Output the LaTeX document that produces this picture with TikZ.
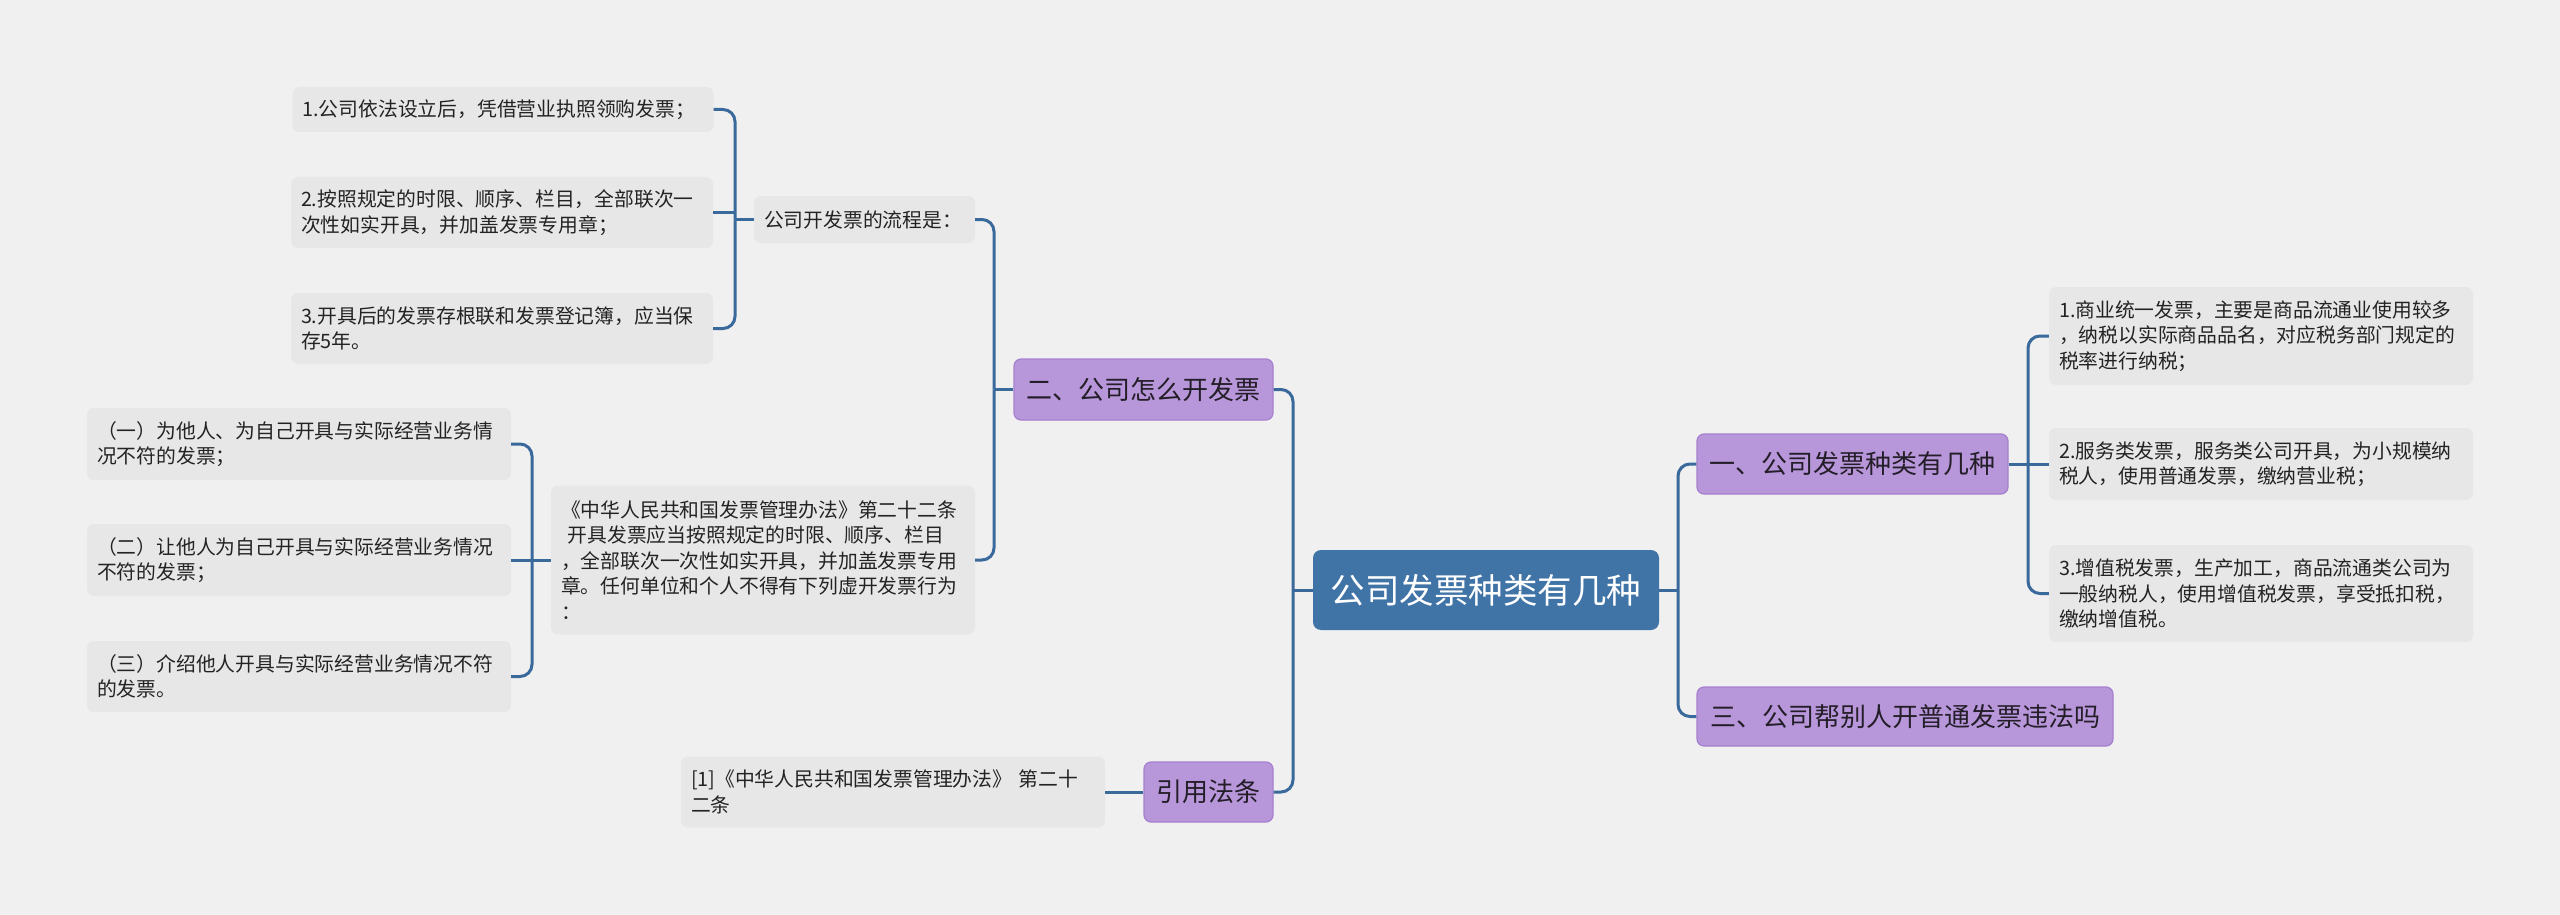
\documentclass[tikz,border=0pt]{standalone}
\usepackage{fontspec}
\setmainfont{Noto Sans CJK SC}
\definecolor{bgc}{RGB}{240,240,240}
\definecolor{leafc}{RGB}{231,231,231}
\definecolor{linec}{RGB}{58,106,155}
\definecolor{rootc}{RGB}{64,115,166}
\definecolor{purp}{RGB}{184,150,218}
\definecolor{purpd}{RGB}{166,128,206}
\definecolor{txtc}{RGB}{35,35,35}
\definecolor{darkt}{RGB}{35,30,40}
\newcommand\myleaffont{\fontsize{19.8}{25.5}\selectfont}
\newcommand\mytopicfont{\fontsize{26}{30}\selectfont}
\newcommand\myrootfont{\fontsize{34.5}{40}\selectfont}
\begin{document}
\begin{tikzpicture}[x=1pt,y=-1pt,
  conn/.style={draw=linec, line width=3pt, rounded corners=12pt},
  leaf/.style={fill=leafc, rounded corners=7pt, inner xsep=10pt, inner ysep=0pt, align=left, font=\myleaffont, text=txtc},
  topic/.style={fill=purp, draw=purpd, line width=1.2pt, rounded corners=7pt, font=\mytopicfont, text=darkt, inner sep=0pt, align=center},
  rootnode/.style={fill=rootc, rounded corners=8pt, font=\myrootfont, text=white, inner sep=0pt, align=center}]
\fill[bgc] (0,0) rectangle (2560,915);
\useasboundingbox (0,0) rectangle (2560,915);

% root
\node[rootnode, minimum width=346pt, minimum height=80pt] (root) at (1486,590) {公司发票种类有几种};

% right side
\node[topic, minimum width=311pt, minimum height=60pt] (n1) at (1852.5,464) {一、公司发票种类有几种};
\node[topic, minimum width=416pt, minimum height=59pt] (n3) at (1905,716.5) {三、公司帮别人开普通发票违法吗};

\node[leaf, text width=404pt, minimum height=98pt] (r1) at (2261,336) {1.商业统一发票，主要是商品流通业使用较多\\，纳税以实际商品品名，对应税务部门规定的\\税率进行纳税；};
\node[leaf, text width=404pt, minimum height=72pt] (r2) at (2261,464) {2.服务类发票，服务类公司开具，为小规模纳\\税人，使用普通发票，缴纳营业税；};
\node[leaf, text width=404pt, minimum height=97pt] (r3) at (2261,593.5) {3.增值税发票，生产加工，商品流通类公司为\\一般纳税人，使用增值税发票，享受抵扣税，\\缴纳增值税。};

% left side
\node[topic, minimum width=259pt, minimum height=61pt] (n2) at (1143.5,389.5) {二、公司怎么开发票};
\node[topic, minimum width=129pt, minimum height=60pt] (n4) at (1208.5,792) {引用法条};

\node[leaf, text width=201pt, minimum height=47pt] (p) at (864.5,219.5) {公司开发票的流程是：};
\node[leaf, text width=404pt, minimum height=149pt] (b) at (763,560) {《中华人民共和国发票管理办法》第二十二条\\\ 开具发票应当按照规定的时限、顺序、栏目\\，全部联次一次性如实开具，并加盖发票专用\\章。任何单位和个人不得有下列虚开发票行为\\：};

\node[leaf, text width=401pt, minimum height=45pt] (i1) at (503,109.5) {1.公司依法设立后，凭借营业执照领购发票；};
\node[leaf, text width=402pt, minimum height=71pt] (i2) at (502,212.5) {2.按照规定的时限、顺序、栏目，全部联次一\\次性如实开具，并加盖发票专用章；};
\node[leaf, text width=402pt, minimum height=71pt] (i3) at (502,328.5) {3.开具后的发票存根联和发票登记簿，应当保\\存5年。};

\node[leaf, text width=404pt, minimum height=72pt] (j1) at (299,444) {（一）为他人、为自己开具与实际经营业务情\\况不符的发票；};
\node[leaf, text width=404pt, minimum height=72pt] (j2) at (299,560) {（二）让他人为自己开具与实际经营业务情况\\不符的发票；};
\node[leaf, text width=404pt, minimum height=71pt] (j3) at (299,676.5) {（三）介绍他人开具与实际经营业务情况不符\\的发票。};

\node[leaf, text width=404pt, minimum height=71pt] (l) at (893,792) {[1]《中华人民共和国发票管理办法》 第二十\\二条};

% connectors right
\coordinate (rsp) at (1678,590);
\draw[conn] (root.east) -- (rsp);
\draw[conn] (rsp) |- (n1.west);
\draw[conn] (rsp) |- (n3.west);
\coordinate (n1sp) at (2028,464);
\draw[conn] (n1.east) -- (n1sp);
\draw[conn] (n1sp) |- (r1.west);
\draw[conn] (n1sp) -- (r2.west);
\draw[conn] (n1sp) |- (r3.west);

% connectors left
\coordinate (lsp) at (1293,590);
\draw[conn] (root.west) -- (lsp);
\draw[conn] (lsp) |- (n2.east);
\draw[conn] (lsp) |- (n4.east);
\coordinate (n2sp) at (994,389.5);
\draw[conn] (n2.west) -- (n2sp);
\draw[conn] (n2sp) |- (p.east);
\draw[conn] (n2sp) |- (b.east);
\coordinate (psp) at (735,219.5);
\draw[conn] (p.west) -- (psp);
\draw[conn] (psp) |- (i1.east);
\draw[conn] (psp) |- (i3.east);
\draw[conn] (i2.east) -- (i2.east -| psp);
\coordinate (bsp) at (532,560);
\draw[conn] (b.west) -- (bsp);
\draw[conn] (bsp) |- (j1.east);
\draw[conn] (bsp) -- (j2.east);
\draw[conn] (bsp) |- (j3.east);
\draw[conn] (n4.west) -- (l.east);
\end{tikzpicture}
\end{document}
